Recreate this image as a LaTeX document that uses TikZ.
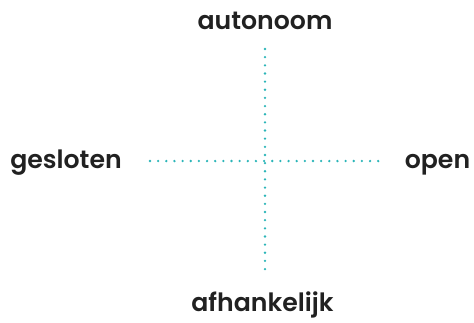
\documentclass[tikz,border=0pt]{standalone}
\usepackage{fontspec}
\setmainfont{Poppins}
\newfontfamily\lblfont{Poppins SemiBold}
\begin{document}
\begin{tikzpicture}[x=1pt,y=-1pt,
  lbl/.style={font=\lblfont\fontsize{25.2}{29}\selectfont, text=black!87, inner sep=0pt, anchor=base},
  axis/.style={draw={rgb,255:red,43;green,181;blue,184}, line width=2.6pt, line cap=round, dash pattern=on 0pt off 8.15pt}]
\useasboundingbox (0,0) rectangle (474,322);
\node[lbl] (top) at (265,29) {autonoom};
\node[lbl] (bot) at (262.5,311) {afhankelijk};
\node[lbl] (left) at (66,168) {gesloten};
\node[lbl] (right) at (437.5,168) {open};
\coordinate (vt) at (265,49);
\coordinate (vb) at (265,276);
\coordinate (hl) at (150,161);
\coordinate (hr) at (381,161);
\draw[axis] (vt) -- (vb);
\draw[axis] (hl) -- (hr);
\end{tikzpicture}
\end{document}
